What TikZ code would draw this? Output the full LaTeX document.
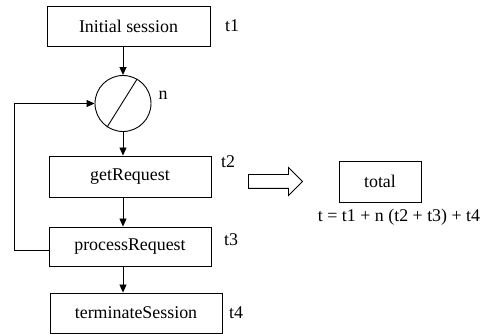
\documentclass[tikz,border=0pt]{standalone}
\usepackage{fontspec}
\setmainfont{Liberation Serif}
\usepackage{tikz}
\usetikzlibrary{arrows.meta,shapes,positioning}
\tikzstyle{arrow} = [->,>={Triangle[length=8pt,width=7pt]}]
\tikzstyle{stepbox} = [rectangle, draw, inner sep=0pt]
\tikzstyle{lbl} = [inner sep=0pt]

\begin{document}
\begin{tikzpicture}[x=1pt, y=-1pt, line width=0.9pt, font=\fontsize{17.9}{20}\selectfont]
    \useasboundingbox (0,0) rectangle (480,334);

    % Session steps
    \node[stepbox, minimum width=163pt, minimum height=40pt] (init) at (128.5,26) {Initial session};
    \node[circle, draw, minimum size=56pt, inner sep=0pt] (loop) at (123,103.5) {};
    \draw (loop.236) -- (loop.60);
    \node[stepbox, minimum width=162pt, minimum height=41pt] (getreq) at (130,176.5) {getRequest};
    \node[stepbox, minimum width=162pt, minimum height=39pt] (procreq) at (130,246.5) {processRequest};
    \node[stepbox, minimum width=172pt, minimum height=40pt] (term) at (136,313) {terminateSession};

    % Times
    \node[lbl] (t1) at (232,26) {t1};
    \node[lbl] (n) at (163,95) {n};
    \node[lbl] (t2) at (228,162) {t2};
    \node[lbl] (t3) at (231,240) {t3};
    \node[lbl] (t4) at (236,313) {t4};

    % Arrows
    \draw[arrow] (loop.north |- init.south) -- (loop.north);
    \draw[arrow] (loop.south) -- (loop.south |- getreq.north);
    \draw[arrow] (loop.south |- getreq.south) -- (loop.south |- procreq.north);
    \draw[arrow] (loop.south |- procreq.south) -- (loop.south |- term.north);
    \coordinate (back) at (14,105);
    \draw[arrow] ([yshift=-4pt]procreq.west) -- ([yshift=-4pt]procreq.west -| back) |- (loop.west);

    % Total
    \node[single arrow, draw, inner sep=0pt, inner ysep=6.5pt, minimum height=54pt,
          single arrow head extend=7pt] (imp) at (272,181.5) {};
    \node[stepbox, minimum width=82pt, minimum height=41pt] (total) at (380,181.5) {total};
    \node[lbl] (formula) at (399,217) {t = t1 + n (t2 + t3) + t4};
\end{tikzpicture}
\end{document}
